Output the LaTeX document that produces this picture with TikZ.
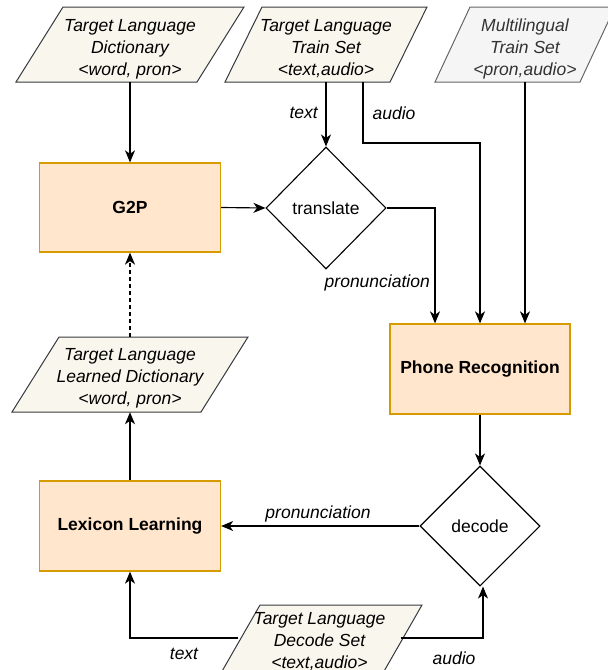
\documentclass[tikz,border=0pt]{standalone}
\usepackage{fontspec}
\setmainfont{Liberation Sans}
\usepackage{xcolor}
\usepackage{tikz}
\usetikzlibrary{shapes.geometric,arrows.meta}
\definecolor{procfill}{HTML}{FFE6CC}
\definecolor{procline}{HTML}{D79B00}
\definecolor{datafill}{HTML}{F9F7ED}
\definecolor{dataline}{HTML}{36393D}
\definecolor{multifill}{HTML}{F5F5F5}
\definecolor{multiline}{HTML}{666666}
\definecolor{multitext}{HTML}{333333}

\begin{document}
\begin{tikzpicture}[x=1pt,y=1pt,
    every node/.style={inner sep=0pt,font=\fontsize{17.5}{22}\selectfont},
    proc/.style={draw=procline,fill=procfill,line width=1.3pt,minimum width=181,font=\fontsize{17.5}{22}\selectfont\bfseries},
    choice/.style={diamond,draw,line width=1.1pt,minimum width=120,minimum height=120},
    data/.style={align=center,minimum height=75,text height=68,text depth=7,font=\fontsize{17.5}{22}\selectfont\itshape},
    dataedge/.style={draw=dataline,fill=datafill,line width=1pt},
    flow/.style={line width=1.15pt,-{Stealth[length=12pt,width=10pt,inset=3.5pt]}},
    tag/.style={font=\fontsize{17.5}{22}\selectfont\itshape}]
    \useasboundingbox (0,0) rectangle (608,-670);
    \clip (0,0) rectangle (608,-670);
    \draw [dataedge] (63,-7) -- (244,-7) -- (197,-82) -- (16,-82) -- cycle;
    \node [data,minimum width=181] (dict) at (130,-44.5) {Target Language\\Dictionary\\<word, pron>};
    \draw [dataedge] (262,-7) -- (427,-7) -- (390,-82) -- (225,-82) -- cycle;
    \node [data,minimum width=165] (train) at (326,-44.5) {Target Language\\Train Set\\<text,audio>};
    \draw [draw=multiline,fill=multifill,line width=1pt] (470,-7) -- (615,-7) -- (580,-82) -- (435,-82) -- cycle;
    \node [data,minimum width=145,text=multitext] (multi) at (525,-44.5) {Multilingual\\Train Set\\<pron,audio>};
    \node [proc,minimum height=89] (g2p) at (130,-207.5) {G2P};
    \node [choice,minimum height=122] (translate) at (326,-208) {translate};
    \node [proc,minimum width=180,minimum height=90] (phone) at (480,-369) {Phone Recognition};
    \draw [dataedge] (59,-337) -- (248,-337) -- (201,-412) -- (12,-412) -- cycle;
    \node [data,minimum width=189,text height=67,text depth=8] (learned) at (130,-374.5) {Target Language\\Learned Dictionary\\<word, pron>};
    \node [proc,minimum height=90] (lex) at (130,-526) {Lexicon Learning};
    \node [choice] (decode) at (480,-526) {decode};
    \draw [dataedge] (260,-605) -- (422,-605) -- (379,-680) -- (217,-680) -- cycle;
    \node [data,minimum width=162,text height=63,text depth=12] (dset) at (319.5,-642.5) {Target Language\\Decode Set\\<text,audio>};
    \coordinate (abend) at (363,-143);
    \draw [flow] (dict.south) -- (g2p.north);
    \draw [flow] (train.south) -- (translate.north);
    \draw [flow] ([xshift=37]train.south) -- (abend) -| (phone.north);
    \draw [flow] (multi.south) -- (multi.south |- phone.north);
    \draw [flow] (g2p.east) -- (translate.west);
    \draw [flow] (translate.east) -| ([xshift=-45]phone.north);
    \draw [flow] (phone.south) -- (decode.north);
    \draw [flow] (decode.west) -- (lex.east);
    \draw [flow] (lex.north) -- (learned.south);
    \draw [flow,dash pattern=on 4pt off 3pt] (learned.north) -- (g2p.south);
    \draw [flow] ([yshift=4.5]dset.west) -| (lex.south);
    \draw [flow] ([yshift=4.5]dset.east) -| ([xshift=3]decode.south);
    \node [tag,anchor=east] (ttext) at (318,-113) {text};
    \node [tag] (taudio) at (394,-113) {audio};
    \node [tag,anchor=east] (tpron) at (430,-283) {pronunciation};
    \node [tag] (lpron) at (318,-514) {pronunciation};
    \node [tag] (ltext) at (184,-654) {text};
    \node [tag] (laudio) at (454,-658) {audio};
\end{tikzpicture}
\end{document}
